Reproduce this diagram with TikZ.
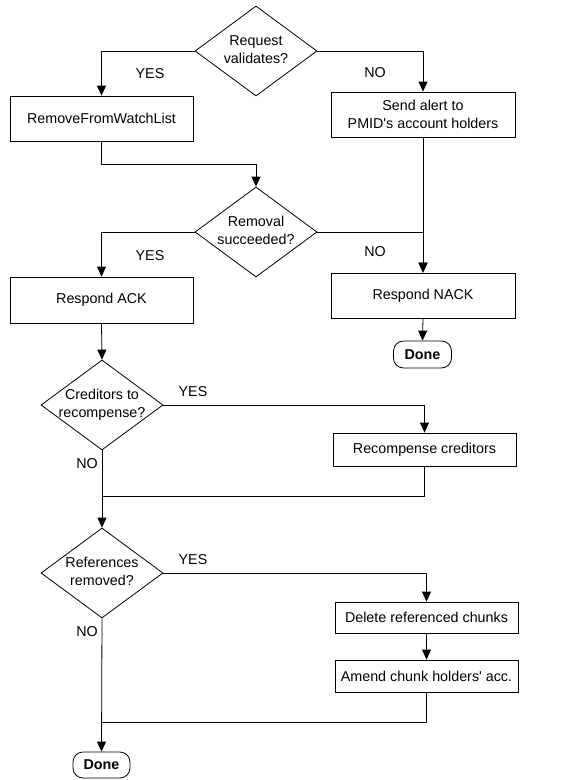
\documentclass[tikz,border=0pt]{standalone}
\usepackage{fontspec}
\newfontfamily\arialf{Liberation Sans}
\usetikzlibrary{shapes.geometric,arrows.meta}
\begin{document}
\begin{tikzpicture}[x=1pt,y=-1pt,
  every node/.style={font=\arialf\fontsize{14.3}{18}\selectfont},
  box/.style={draw,line width=0.8pt,minimum width=183pt,inner sep=0pt,align=center},
  dec/.style={draw,line width=0.8pt,diamond,minimum width=122pt,minimum height=90pt,inner sep=0pt},
  term/.style={draw,line width=0.8pt,rounded corners=10pt,inner sep=0pt,minimum width=58pt,minimum height=27pt,font=\arialf\fontsize{14.3}{18}\selectfont\bfseries},
  lbl/.style={inner sep=0pt},
  arr/.style={line width=0.8pt,-{Triangle[width=9pt,length=10pt]}},
  ln/.style={line width=0.8pt}]
\useasboundingbox (0,0) rectangle (584,780);
\node[dec] (d1) at (256,51) {\makebox[0pt]{\begin{tabular}{@{}c@{}}Request\\validates?\end{tabular}}};
\node[box,minimum height=45pt] (rfwl) at (101.5,118.5) {RemoveFromWatchList};
\node[box,minimum height=45pt,minimum width=184pt] (alert) at (423,114.5) {Send alert to\\PMID's account holders};
\node[dec] (d2) at (256,232) {\makebox[0pt]{\begin{tabular}{@{}c@{}}Removal\\succeeded?\end{tabular}}};
\node[box,minimum height=46pt] (ack) at (101.5,300) {Respond ACK};
\node[box,minimum height=45pt,minimum width=184pt] (nack) at (423,295.5) {Respond NACK};
\node[term] (done1) at (422.5,354.5) {Done};
\node[dec] (d3) at (102,405) {\makebox[0pt]{\begin{tabular}{@{}c@{}}Creditors to\\recompense?\end{tabular}}};
\node[box,minimum height=33pt] (rc) at (424.5,449.5) {Recompense creditors};
\node[dec] (d4) at (102,573) {\makebox[0pt]{\begin{tabular}{@{}c@{}}References\\removed?\end{tabular}}};
\node[box,minimum height=31pt] (del) at (426.5,617.5) {Delete referenced chunks};
\node[box,minimum height=32pt] (amend) at (426.5,676) {Amend chunk holders' acc.};
\node[term,minimum width=57pt,minimum height=26pt] (done2) at (101.5,765) {Done};
\node[lbl] (y1) at (150,74) {YES};
\node[lbl] (n1) at (375,73) {NO};
\node[lbl] (y2) at (150,256) {YES};
\node[lbl] (n2) at (375,252) {NO};
\node[lbl] (y3) at (193,392) {YES};
\node[lbl] (n3) at (87,464) {NO};
\node[lbl] (y4) at (193,560) {YES};
\node[lbl] (n4) at (87,632) {NO};
\coordinate (m0) at (101.5,164);
\coordinate (m1) at (102,496);
\coordinate (m2) at (102,722);
\draw[arr] (d1.west) -| (rfwl.north);
\draw[arr] (d1.east) -| (alert.north);
\draw[arr] (rfwl.south) -- (m0) -| (d2.north);
\draw[arr] (d2.west) -| (ack.north);
\draw[arr] (d2.east) -| (nack.north);
\draw[arr] (alert.south) -- (nack.north);
\draw[arr] (nack.south) -- (done1.north);
\draw[arr] (ack.south) -- (d3.north);
\draw[arr] (d3.east) -| (rc.north);
\draw[arr] (d3.south) -- (d4.north);
\draw[ln] (rc.south) |- (m1);
\draw[arr] (d4.east) -| (del.north);
\draw[arr] (del.south) -- (amend.north);
\draw[ln] (amend.south) |- (m2);
\draw[arr] (d4.south) -- (done2.north);
\end{tikzpicture}
\end{document}
